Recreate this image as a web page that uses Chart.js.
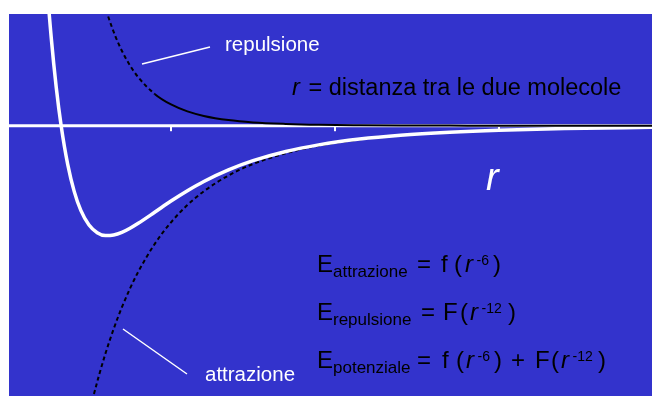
<!DOCTYPE html>
<html><head><meta charset="utf-8">
<script src="https://cdn.jsdelivr.net/npm/chart.js@4/dist/chart.umd.min.js"></script>
<style>html,body{margin:0;padding:0;background:#fff;}canvas{display:block;}</style>
</head><body>
<canvas id="c" width="652" height="396"></canvas>
<script>
// distanza r (unità arbitrarie) e energie (unità di profondità della buca)
const rPotenziale = [2.20, 2.24, 2.27, 2.30, 2.33, 2.37, 2.41, 2.45, 2.50, 2.55, 2.60, 2.65, 2.70, 2.75, 2.80, 2.90, 3.00, 3.10, 3.20, 3.35, 3.50, 3.70, 3.90, 4.15, 4.40, 4.70, 5.00, 5.40, 5.95];
const ePotenziale = [2.321, 1.351, 0.793, 0.350, 0.000, -0.351, -0.599, -0.770, -0.903, -0.973, -0.999, -0.994, -0.970, -0.932, -0.887, -0.787, -0.685, -0.591, -0.507, -0.402, -0.318, -0.234, -0.174, -0.121, -0.086, -0.059, -0.041, -0.026, -0.014];
const rAttrazione = [2.48, 2.52, 2.56, 2.60, 2.65, 2.70, 2.75, 2.80, 2.90, 3.00, 3.10, 3.20, 3.35, 3.50, 3.70, 3.90, 4.15, 4.40, 4.70, 5.00, 5.40, 5.95];
const eAttrazione = [-2.751, -2.499, -2.274, -2.072, -1.848, -1.652, -1.480, -1.328, -1.076, -0.878, -0.721, -0.596, -0.453, -0.348, -0.250, -0.182, -0.125, -0.088, -0.059, -0.041, -0.026, -0.014];
const rRepulsione = [2.58, 2.62, 2.66, 2.70, 2.75, 2.80, 2.90, 3.00, 3.10, 3.20, 3.35, 3.50, 3.70, 3.90, 4.15, 4.40, 4.70, 5.00, 5.40, 5.95];
const eRepulsione = [1.177, 0.979, 0.816, 0.682, 0.547, 0.441, 0.289, 0.193, 0.130, 0.089, 0.051, 0.030, 0.016, 0.008, 0.004, 0.002, 0.001, 0.0004, 0.0002, 0.0001];
const xTicks = [3, 4, 5];
const xRange = [2.012, 5.933];
const yRange = [-2.457, 1.0155];

const FONT = '"Liberation Sans", Arial, sans-serif';
const pts = (xs, ys) => xs.map((x, i) => ({x, y: ys[i]}));

const bgPlugin = {
  id: 'bg',
  beforeDraw(chart) {
    const {ctx, chartArea: a} = chart;
    ctx.save();
    ctx.fillStyle = '#3333cc';
    ctx.fillRect(a.left, a.top, a.right - a.left, a.bottom - a.top);
    ctx.restore();
  },
  beforeDatasetsDraw(chart) {
    const {ctx, chartArea: a, scales} = chart;
    const y0 = scales.y.getPixelForValue(0);
    ctx.save();
    ctx.strokeStyle = '#ffffff';
    ctx.lineWidth = 3;
    ctx.beginPath();
    ctx.moveTo(a.left, y0);
    ctx.lineTo(a.right, y0);
    ctx.stroke();
    ctx.fillStyle = '#ffffff';
    xTicks.forEach(t => {
      const x = scales.x.getPixelForValue(t);
      ctx.fillRect(Math.round(x) - 1, y0, 2, 5.5);
    });
    ctx.restore();
  }
};

function seg(ctx, s, x, y, size, color, italic) {
  ctx.font = (italic ? 'italic ' : '') + size + 'px ' + FONT;
  ctx.fillStyle = color;
  ctx.fillText(s, x, y);
}

const textPlugin = {
  id: 'testi',
  afterDatasetsDraw(chart) {
    const ctx = chart.ctx;
    ctx.save();
    ctx.textBaseline = 'alphabetic';
    ctx.textAlign = 'left';
    // leader lines
    ctx.strokeStyle = '#ffffff';
    ctx.lineWidth = 1.5;
    ctx.beginPath();
    ctx.moveTo(142, 64); ctx.lineTo(210, 47);
    ctx.moveTo(123, 329); ctx.lineTo(187, 374);
    ctx.stroke();
    seg(ctx, 'repulsione', 225, 51, 20.5, '#ffffff');
    seg(ctx, 'attrazione', 205, 381, 20.5, '#ffffff');
    seg(ctx, 'r', 292, 95, 23.5, '#000000', true);
    seg(ctx, ' = distanza tra le due molecole', 302, 95, 23.5, '#000000');
    seg(ctx, 'r', 486, 190, 38, '#ffffff', true);

    const K = '#000000', M = 24, S = 17, P = 14;
    const lines = [
      [272, [['E',317,'m'],['attrazione',333,'s'],['=',417,'m'],['f',441,'m'],['(',454,'m'],['r',465,'i'],['-6',476.5,'p'],[')',493,'m']]],
      [320, [['E',317,'m'],['repulsione',333,'s'],['=',421,'m'],['F',443,'m'],['(',460,'m'],['r',470,'i'],['-12',481.5,'p'],[')',508,'m']]],
      [368, [['E',317,'m'],['potenziale',333,'s'],['=',417,'m'],['f',442,'m'],['(',456,'m'],['r',466,'i'],['-6',477.5,'p'],[')',494,'m'],
             ['+',511,'m'],['F',535,'m'],['(',551,'m'],['r',561,'i'],['-12',572.5,'p'],[')',598,'m']]]
    ];
    lines.forEach(([by, parts]) => {
      parts.forEach(([s, x, k]) => {
        if (k === 'm') seg(ctx, s, x, by, M, K);
        else if (k === 'i') seg(ctx, s, x, by, M, K, true);
        else if (k === 's') seg(ctx, s, x, by + 5, S, K);
        else seg(ctx, s, x, by - 7, P, K);
      });
    });
    ctx.restore();
  }
};

new Chart(document.getElementById('c'), {
  type: 'line',
  data: {
    datasets: [
      {
        label: 'repulsione', data: pts(rRepulsione, eRepulsione), order: 0,
        borderColor: '#000000', borderWidth: 2, pointRadius: 0,
        cubicInterpolationMode: 'monotone',
        segment: {
          borderDash: c => Math.abs(c.p1.y - c.p0.y) > Math.abs(c.p1.x - c.p0.x) ? [4, 3] : undefined
        }
      },
      {
        label: 'potenziale', data: pts(rPotenziale, ePotenziale), order: 1,
        borderColor: '#ffffff', borderWidth: 3.5, pointRadius: 0,
        cubicInterpolationMode: 'monotone'
      },
      {
        label: 'attrazione', data: pts(rAttrazione, eAttrazione), order: 2,
        borderColor: '#000000', borderWidth: 2, borderDash: [4, 3], pointRadius: 0,
        cubicInterpolationMode: 'monotone'
      }
    ]
  },
  options: {
    responsive: false,
    animation: false,
    devicePixelRatio: 1,
    layout: {padding: {left: 9, top: 14, right: 0, bottom: 0}},
    plugins: {legend: {display: false}, tooltip: {enabled: false}},
    scales: {
      x: {type: 'linear', min: xRange[0], max: xRange[1], display: false},
      y: {type: 'linear', min: yRange[0], max: yRange[1], display: false}
    }
  },
  plugins: [bgPlugin, textPlugin]
});
</script>
</body></html>
